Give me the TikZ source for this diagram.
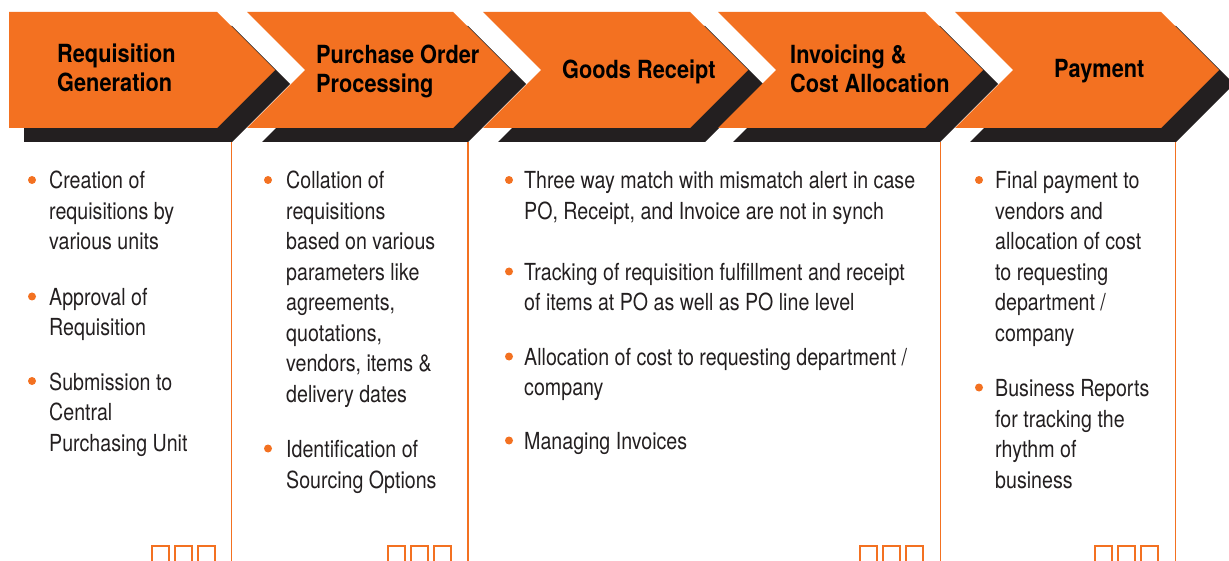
\documentclass[tikz,border=0pt]{standalone}
\usepackage{fontspec}
\newfontfamily\titlefont[FakeStretch=0.87]{TeX Gyre Heros}
\newfontfamily\bodyfont[FakeStretch=0.835]{TeX Gyre Heros}
\definecolor{po}{RGB}{243,113,33}
\definecolor{sh}{RGB}{35,31,32}
\newcommand\mylines[1]{\vtop{#1}}
\newcommand\myline[1]{\hbox{#1}}
\tikzset{
  ttl/.style={anchor=base west, inner sep=0pt, font=\titlefont\bfseries\fontsize{25}{29}\selectfont, text=black},
  bodytxt/.style={anchor=base west, inner sep=0pt, font=\bodyfont\fontsize{23.5}{30.5}\selectfont, text=sh},
  bul/.style={circle, fill=po, inner sep=0pt, minimum size=8pt},
  sepline/.style={draw=po, line width=1.2pt},
  sqbox/.style={draw=po, line width=1.1pt},
  arrowfill/.style={fill=po},
  shadowfill/.style={fill=sh}
}
\begin{document}
\begin{tikzpicture}[x=1pt,y=-1pt]
\useasboundingbox (0,0) rectangle (1229,561);
% shadows
\fill[shadowfill, shift={(15,14)}] (9,12) -- (217,12) -- (275,70) -- (217,128) -- (9,128) -- cycle;
\foreach \s/\r in {247/453,483/690,718/925,955/1161}{
  \fill[shadowfill, shift={(15,14)}] (\s,12) -- (\r,12) -- (\r+58,70) -- (\r,128) -- (\s,128) -- (\s+58,70) -- cycle;
}
% orange arrows
\fill[arrowfill] (9,12) -- (217,12) -- (275,70) -- (217,128) -- (9,128) -- cycle;
\foreach \s/\r in {247/453,483/690,718/925,955/1161}{
  \fill[arrowfill] (\s,12) -- (\r,12) -- (\r+58,70) -- (\r,128) -- (\s,128) -- (\s+58,70) -- cycle;
}
% separator lines
\coordinate (l1t) at (231.5,142); \coordinate (l1b) at (231.5,561);
\coordinate (l2t) at (468,142);   \coordinate (l2b) at (468,561);
\coordinate (l3t) at (940.5,142); \coordinate (l3b) at (940.5,561);
\coordinate (l4t) at (1175.5,142);\coordinate (l4b) at (1175.5,561);
\draw[sepline] (l1t) -- (l1b);
\draw[sepline] (l2t) -- (l2b);
\draw[sepline] (l3t) -- (l3b);
\draw[sepline] (l4t) -- (l4b);
% small squares
\foreach \r in {217,453,925,1160}{
  \foreach \d in {65,42,19}{
    \draw[sqbox] (\r-\d,561) -- (\r-\d,546) -- (\r-\d+17,546) -- (\r-\d+17,561);
  }
}
% titles
\node[ttl] (t1) at (57,63) {\mylines{\myline{Requisition}\myline{Generation}}};
\node[ttl] (t2) at (316,64) {\mylines{\myline{Purchase Order}\myline{Processing}}};
\node[ttl] (t3) at (562,79) {Goods Receipt};
\node[ttl] (t4) at (790,64) {\mylines{\myline{Invoicing \&}\myline{Cost Allocation}}};
\node[ttl] (t5) at (1054,78) {Payment};
% column 1
\node[bul] (b11) at (32,180) {};
\node[bodytxt] (c11) at (49,189) {\mylines{\myline{Creation of}\myline{requisitions by}\myline{various units}}};
\node[bul] (b12) at (32,296.5) {};
\node[bodytxt] (c12) at (49,305.5) {\mylines{\myline{Approval of}\myline{Requisition}}};
\node[bul] (b13) at (32,381) {};
\node[bodytxt] (c13) at (49,390) {\mylines{\myline{Submission to}\myline{Central}\myline{Purchasing Unit}}};
% column 2
\node[bul] (b21) at (268,180) {};
\node[bodytxt] (c21) at (286,189) {\mylines{\myline{Collation of}\myline{requisitions}\myline{based on various}\myline{parameters like}\myline{agreements,}\myline{quotations,}\myline{vendors, items \&}\myline{delivery dates}}};
\node[bul] (b22) at (268,448.5) {};
\node[bodytxt] (c22) at (286,457.5) {\mylines{\myline{Identification of}\myline{Sourcing Options}}};
% column 3
\node[bul] (b31) at (509,180) {};
\node[bodytxt] (c31) at (524,189) {\mylines{\myline{Three way match with mismatch alert in case}\myline{PO, Receipt, and Invoice are not in synch}}};
\node[bul] (b32) at (509,271.5) {};
\node[bodytxt] (c32) at (524,280.5) {\mylines{\myline{Tracking of requisition fulfillment and receipt}\myline{of items at PO as well as PO line level}}};
\node[bul] (b33) at (509,356.5) {};
\node[bodytxt] (c33) at (524,365.5) {\mylines{\myline{Allocation of cost to requesting department /}\myline{company}}};
\node[bul] (b34) at (509,440.5) {};
\node[bodytxt] (c34) at (524,449.5) {Managing Invoices};
% column 4
\node[bul] (b41) at (979,180) {};
\node[bodytxt] (c41) at (995,189) {\mylines{\myline{Final payment to}\myline{vendors and}\myline{allocation of cost}\myline{to requesting}\myline{department /}\myline{company}}};
\node[bul] (b42) at (979,387.5) {};
\node[bodytxt] (c42) at (995,396.5) {\mylines{\myline{Business Reports}\myline{for tracking the}\myline{rhythm of}\myline{business}}};
\end{tikzpicture}
\end{document}
